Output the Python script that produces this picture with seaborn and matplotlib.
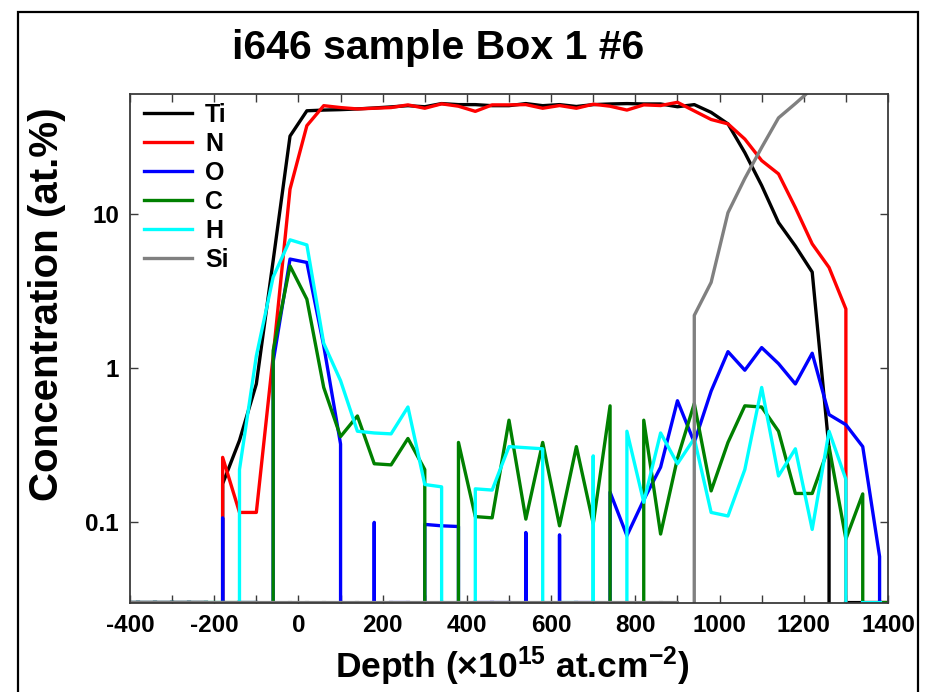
import numpy as np
import pandas as pd
import matplotlib
matplotlib.use("Agg")
import matplotlib.pyplot as plt
import seaborn as sns
from matplotlib.ticker import FixedLocator, FixedFormatter, NullLocator, MultipleLocator
from matplotlib.patches import Rectangle

# ---------------- data ----------------
depth = [-420, -380, -340, -300, -260, -220, -180, -140, -100, -60, -20, 20, 60, 100,
         140, 180, 220, 260, 300, 340, 380, 420, 460, 500, 540, 580, 620, 660, 700,
         740, 780, 820, 860, 900, 940, 980, 1020, 1060, 1100, 1140, 1180, 1220, 1260,
         1300, 1340, 1380, 1420]

ti = [0, 0, 0, 0, 0, 0,
      0.178, 0.34, 0.79, 5.0, 32, 46.7, 47.2, 47.5, 48, 48.7, 49.5, 50.4, 49.6, 52,
      51.2, 51.2, 50.4, 50.4, 52, 50.4, 51.2, 49.8, 51.2, 51.7, 52, 51.7, 51.7, 49.6,
      51.2, 45.6, 38.4, 25, 15.3, 8.8, 6.2, 4.2, 0.3,
      0, 0, 0, 0]

n = [0, 0, 0, 0, 0, 0,
     0.264, 0.116, 0.116, 1.2, 14.5, 37.4, 50.4, 49, 48, 48.5, 49, 51, 48.5, 51.8,
     50, 46.3, 51, 51, 51.2, 48.5, 50.5, 48.5, 51.5, 50, 47.2, 51, 50.5, 53, 46.6,
     41, 38.4, 30.6, 22.2, 18.2, 11, 6.4, 4.5, 2.42,
     0, 0, 0]

o = [0, 0, 0, 0, 0, 0,
     0.107, 0, 0, 1.1, 5.1, 4.85, 1.4, 0.322, 0, 0.1, 0, 0, 0.097, 0.095, 0.094,
     0, 0, 0, 0.086, 0, 0.083, 0, 0, 0.157, 0.082, 0.14, 0.228, 0.615, 0.33, 0.71,
     1.28, 0.97, 1.36, 1.07, 0.79, 1.25, 0.5, 0.43, 0.31, 0.06,
     0]

c = [0, 0, 0, 0, 0, 0, 0, 0, 0,
     1.3, 4.6, 2.8, 0.75, 0.36, 0.49, 0.24, 0.236, 0.35, 0.22, 0, 0.33, 0.109,
     0.107, 0.46, 0.105, 0.33, 0.095, 0.31, 0.098, 0.57, 0, 0.46, 0.084, 0.26,
     0.59, 0.16, 0.33, 0.57, 0.56, 0.39, 0.154, 0.154, 0.31, 0.078, 0.153,
     0, 0]

h = [0, 0, 0, 0, 0, 0, 0,
     0.22, 1.2, 3.9, 6.8, 6.3, 1.45, 0.83, 0.39, 0.38, 0.375, 0.56, 0.176, 0.17, 0,
     0.165, 0.162, 0.31, 0.305, 0.30, 0, 0, 0.27, 0, 0.39, 0.135, 0.38, 0.24, 0.35,
     0.116, 0.11, 0.22, 0.75, 0.2, 0.3, 0.09, 0.39, 0.19,
     0, 0, np.nan]

si = [0] * 34 + [2.2, 3.6, 10.2, 17, 27, 42, 52, 65, 72, 78, 83, 87, 90]

elements = ["Ti", "N", "O", "C", "H", "Si"]
colors = ["#000000", "#ff0000", "#0000ff", "#008000", "#00ffff", "#808080"]
series = [ti, n, o, c, h, si]

xticks = [-400, -200, 0, 200, 400, 600, 800, 1000, 1200, 1400]
xtick_labels = ["-400", "-200", "0", "200", "400", "600", "800", "1000", "1200", "1400"]
yticks = [0.1, 1, 10]
ytick_labels = ["0.1", "1", "10"]

for s in series:
    assert len(s) == len(depth)

# ---------------- style ----------------
plt.rcParams["font.family"] = ["Liberation Sans", "DejaVu Sans"]
plt.rcParams["font.weight"] = "bold"
plt.rcParams["axes.unicode_minus"] = False
plt.rcParams["mathtext.fontset"] = "custom"
plt.rcParams["mathtext.rm"] = "Liberation Sans:bold"
plt.rcParams["mathtext.bf"] = "Liberation Sans:bold"
plt.rcParams["mathtext.default"] = "regular"

W, H = 928, 692
fig = plt.figure(figsize=(W / 100, H / 100), dpi=100)
ax = fig.add_axes([130 / W, 1 - 603 / H, (888 - 130) / W, (603 - 94) / H])

YMIN, YMAX = 0.03, 60
LW = 2.4

for el, col, vals in zip(elements, colors, series):
    df = pd.DataFrame({"Depth": depth, "Conc": vals}).dropna()
    sns.lineplot(data=df, x="Depth", y="Conc", color=col, linewidth=LW,
                 label=el, ax=ax, estimator=None, sort=False)
    # zero runs lie along the bottom edge of the log axis
    xs, ys = [], []
    for i in range(len(depth) - 1):
        if vals[i] == 0 and vals[i + 1] == 0:
            xs += [depth[i], depth[i + 1], np.nan]
            ys += [YMIN, YMIN, np.nan]
    if xs:
        ax.plot(xs, ys, color=col, linewidth=LW + 0.6, label="_nolegend_")

ax.set_yscale("log")
ax.set_xlim(-400, 1400)
ax.set_ylim(YMIN, YMAX)

ax.xaxis.set_major_locator(FixedLocator(xticks))
ax.xaxis.set_major_formatter(FixedFormatter(xtick_labels))
ax.xaxis.set_minor_locator(MultipleLocator(100))
ax.yaxis.set_major_locator(FixedLocator(yticks))
ax.yaxis.set_major_formatter(FixedFormatter(ytick_labels))
ax.yaxis.set_minor_locator(NullLocator())

spine_col = "#3a3a3a"
for sp in ax.spines.values():
    sp.set_color(spine_col)
    sp.set_linewidth(1.3)
ax.tick_params(axis="both", which="both", direction="in", top=True, right=True,
               length=6, width=1.0, color=spine_col)
ax.tick_params(axis="both", which="major", labelsize=17.5, pad=8)
for lab in ax.get_xticklabels() + ax.get_yticklabels():
    lab.set_fontweight("bold")

ax.set_xlabel("")
ax.set_ylabel("")

leg = ax.legend(loc="upper left", bbox_to_anchor=(0.018, 0.982), frameon=False,
                fontsize=18, handlelength=1.95, handletextpad=0.5, labelspacing=0.2,
                borderaxespad=0, borderpad=0)
for t in leg.get_texts():
    t.set_fontweight("bold")

fig.text(438 / W, 1 - 48 / H, "i646 sample Box 1 #6", ha="center", va="center",
         fontsize=29.5, fontweight="bold")
fig.text(512 / W, 1 - 666 / H, r"Depth ($\times$10$^{15}$ at.cm$^{-2}$)",
         ha="center", va="center", fontsize=25.5, fontweight="bold")
fig.text(47 / W, 1 - 304 / H, "Concentration (at.%)", ha="center", va="center",
         rotation=90, fontsize=29, fontweight="bold")

fig.patches.append(Rectangle((18 / W, -0.05), (918 - 18) / W, 1.05 - 12 / H,
                             transform=fig.transFigure, fill=False,
                             edgecolor="black", linewidth=1.6))

fig.savefig("out.png", dpi=100)
